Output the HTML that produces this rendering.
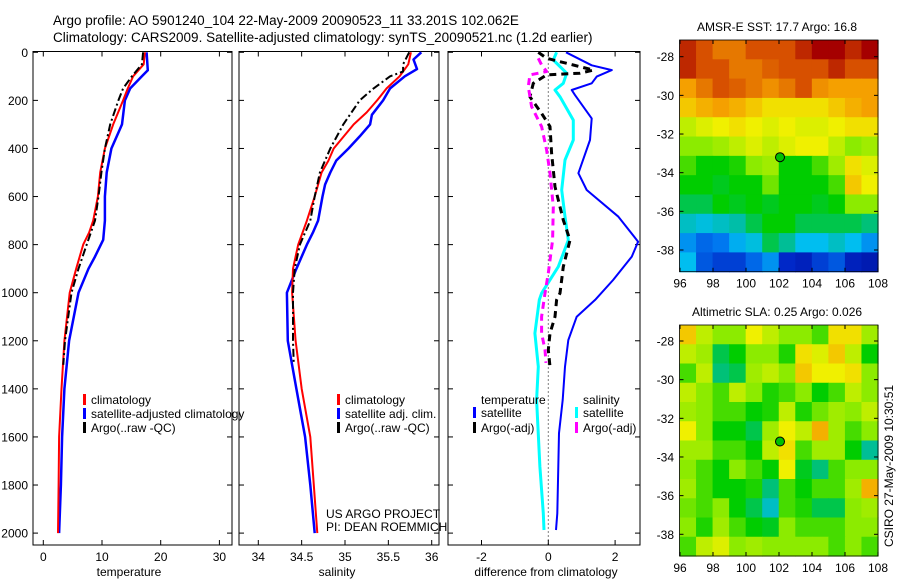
<!DOCTYPE html>
<html><head><meta charset="utf-8"><style>
body{margin:0;background:#fff;}
svg{display:block;font-family:"Liberation Sans",sans-serif;}
</style></head><body>
<svg id="fig" width="900" height="580" viewBox="0 0 900 580" xmlns="http://www.w3.org/2000/svg">
<rect width="900" height="580" fill="#fff"/>
<text x="53" y="25" font-size="13.5">Argo profile: AO 5901240_104 22-May-2009 20090523_11 33.201S 102.062E</text>
<text x="53" y="42" font-size="13.5">Climatology: CARS2009. Satellite-adjusted climatology: synTS_20090521.nc (1.2d earlier)</text>
<g id="layer"></g>
</svg>
<script>
// ---------- data ----------
const tDepth=[0,50,100,150,200,300,400,500,600,700,750,800,900,1000,1200,1400,1600,1800,2000];
const tClim=[17.3,17.1,15.3,14.4,13.6,11.9,10.5,9.7,9.3,8.5,7.8,6.8,5.6,4.5,3.6,3.1,2.7,2.6,2.5];
const tSatDepth=[0,75,100,150,200,300,400,500,600,700,780,850,900,1000,1200,1400,1600,1800,2000];
const tSat=[17.6,17.8,16.8,14.8,13.9,13.4,11.6,10.8,10.5,10.5,10.2,8.8,7.7,6.0,4.4,3.6,3.2,3.0,2.7];
const argoDepth=[0,50,100,150,200,300,400,500,600,700,800,900,1000,1200,1300];
const tArgo=[17.0,16.8,15.1,13.6,12.8,11.4,10.5,9.9,9.4,8.8,7.4,6.0,4.8,3.7,3.4];
const sDepth=[0,50,100,150,200,250,300,400,450,500,600,700,800,900,1000,1200,1400,1600,1800,2000];
const sClim=[35.76,35.73,35.63,35.48,35.37,35.25,35.10,34.87,34.81,34.73,34.65,34.56,34.46,34.40,34.39,34.43,34.50,34.60,34.64,34.68];
const sSatDepth=[0,30,70,100,150,200,260,300,350,400,450,500,550,600,700,750,800,900,1000,1200,1400,1600,1800,2000];
const sSat=[35.88,35.79,35.83,35.69,35.52,35.44,35.31,35.29,35.17,35.04,34.90,34.83,34.77,34.74,34.69,34.63,34.56,34.44,34.33,34.34,34.44,34.54,34.60,34.65];
const sArgoDepth=[0,50,80,100,150,200,300,400,500,600,700,800,900,1000,1200,1300];
const sArgo=[35.74,35.67,35.67,35.52,35.33,35.17,34.98,34.83,34.71,34.65,34.60,34.48,34.42,34.40,34.40,34.41];
const dTSatDepth=[0,54,74,101,129,157,178,275,365,503,573,684,788,850,947,1030,1100,1197,1308,1446,1584,1724,1918,1987];
const dTSat=[0.53,1.30,1.90,1.45,1.30,0.70,0.80,1.30,1.25,0.90,1.15,2.10,2.69,2.50,1.94,1.40,0.85,0.60,0.50,0.43,0.32,0.30,0.27,0.23];
const dSSatDepth=[0,32,87,129,157,185,282,365,448,573,684,781,892,1002,1030,1169,1308,1446,1724,1918,1987];
const dSSat=[0.25,0.15,0.55,0.45,0.20,0.35,0.75,0.75,0.50,0.40,0.50,0.60,0.30,-0.20,-0.27,-0.40,-0.30,-0.35,-0.25,-0.15,-0.13];
const dTArgoDepth=[0,25,53,74,87,94,129,185,254,309,420,559,698,781,892,1002,1030,1100,1169,1238,1308];
const dTArgo=[-0.30,-0.05,0.75,1.35,0.95,-0.05,-0.45,-0.55,-0.20,0.05,0.10,0.20,0.45,0.65,0.45,0.35,0.25,0.20,0.05,0.0,0.05];
const dSArgoDepth=[25,53,80,94,143,226,309,406,503,642,781,919,1002,1030,1100,1169,1238,1292];
const dSArgo=[-0.30,-0.20,-0.05,-0.55,-0.60,-0.50,-0.20,-0.05,0.05,0.15,0.13,0.0,-0.10,-0.13,-0.20,-0.20,-0.10,-0.07];
const depthTicks=[0,200,400,600,800,1000,1200,1400,1600,1800,2000];
const tTicks=[0,10,20,30];
const sTicks=[34,34.5,35,35.5,36];
const dTicks=[-2,0,2];
const lonTicks=[96,98,100,102,104,106,108];
const latTicks=[-28,-30,-32,-34,-36,-38];
const sstGrid=[
[0.95,0.9,0.85,0.85,0.9,0.9,0.9,0.95,1,1,0.95,1],
[0.95,0.9,0.9,0.85,0.85,0.88,0.9,0.9,0.9,0.95,0.9,0.9],
[0.8,0.85,0.9,0.88,0.85,0.82,0.85,0.9,0.82,0.8,0.8,0.8],
[0.75,0.78,0.8,0.78,0.75,0.72,0.72,0.72,0.72,0.75,0.78,0.8],
[0.65,0.68,0.7,0.72,0.7,0.68,0.7,0.68,0.68,0.7,0.72,0.72],
[0.6,0.6,0.62,0.65,0.68,0.65,0.68,0.7,0.7,0.65,0.6,0.62],
[0.55,0.5,0.5,0.52,0.6,0.62,0.5,0.5,0.55,0.62,0.72,0.68],
[0.5,0.5,0.48,0.5,0.5,0.58,0.5,0.5,0.5,0.55,0.75,0.7],
[0.45,0.45,0.5,0.48,0.5,0.48,0.5,0.5,0.48,0.5,0.6,0.6],
[0.35,0.32,0.35,0.38,0.45,0.5,0.5,0.45,0.45,0.45,0.45,0.42],
[0.25,0.2,0.22,0.28,0.32,0.45,0.4,0.3,0.3,0.35,0.3,0.25],
[0.3,0.18,0.15,0.15,0.2,0.25,0.12,0.1,0.15,0.18,0.1,0.08]];
const slaGrid=[
[0.75,0.65,0.6,0.6,0.7,0.65,0.6,0.6,0.55,0.72,0.72,0.62],
[0.65,0.62,0.45,0.5,0.6,0.6,0.52,0.72,0.68,0.75,0.65,0.5],
[0.55,0.65,0.42,0.45,0.62,0.65,0.6,0.75,0.7,0.7,0.72,0.6],
[0.65,0.6,0.55,0.65,0.6,0.52,0.55,0.6,0.5,0.55,0.65,0.6],
[0.62,0.6,0.55,0.55,0.5,0.52,0.65,0.52,0.58,0.62,0.6,0.65],
[0.7,0.6,0.5,0.5,0.45,0.62,0.7,0.65,0.78,0.62,0.55,0.6],
[0.62,0.62,0.55,0.55,0.5,0.65,0.72,0.55,0.62,0.62,0.5,0.4],
[0.6,0.55,0.5,0.6,0.55,0.5,0.7,0.48,0.42,0.55,0.6,0.6],
[0.62,0.55,0.5,0.5,0.52,0.42,0.55,0.5,0.55,0.55,0.62,0.78],
[0.58,0.55,0.6,0.5,0.45,0.35,0.55,0.52,0.45,0.45,0.6,0.62],
[0.6,0.52,0.62,0.55,0.5,0.48,0.6,0.55,0.55,0.55,0.6,0.6],
[0.55,0.65,0.68,0.6,0.62,0.6,0.6,0.6,0.6,0.55,0.6,0.55]];
const argoLon=102.06, argoLat=-33.2;

// ---------- helpers ----------
const NS="http://www.w3.org/2000/svg";
const L=document.getElementById('layer');
function mk(tag,at,parent){const e=document.createElementNS(NS,tag);for(const k in at)e.setAttribute(k,at[k]);(parent||L).appendChild(e);return e;}
const yD=d=>52.3+d*0.2404;
const panels=[
 {x0:33,x1:232,sx:v=>43.3+v*5.87,ticks:tTicks,label:'temperature',fmt:v=>v},
 {x0:239,x1:439,sx:v=>258.3+(v-34)*86.7,ticks:sTicks,label:'salinity',fmt:v=>v},
 {x0:448,x1:640,sx:v=>548.3+v*33.4,ticks:dTicks,label:'difference from climatology',fmt:v=>v}];
const yTop=51.5,yBot=545;
panels.forEach((p,i)=>{
 const g=mk('g',{});
 
 
 const b=mk('rect',{x:p.x0,y:yTop,width:p.x1-p.x0,height:yBot-yTop,fill:'none',stroke:'#000','stroke-width':1},g);
 
 
 depthTicks.forEach(d=>{
  const y=yD(d);
  const t=mk('line',{x1:p.x0,x2:p.x0+5,y1:y,y2:y,stroke:'#000'},g);
  
  
  mk('line',{x1:p.x1,x2:p.x1-5,y1:y,y2:y,stroke:'#000'},g);
  if(i===0){const tx=mk('text',{x:28,y:y+4.5,'font-size':12,'text-anchor':'end'},g);tx.textContent=d;
   
   }
 });
 p.ticks.forEach(v=>{
  const x=p.sx(v);
  const t=mk('line',{x1:x,x2:x,y1:yBot,y2:yBot-5,stroke:'#000'},g);
  
  
  mk('line',{x1:x,x2:x,y1:yTop,y2:yTop+5,stroke:'#000'},g);
  const tx=mk('text',{x:x,y:561,'font-size':12,'text-anchor':'middle'},g);tx.textContent=p.fmt(v);
  
  
 });
 const lab=mk('text',{x:(i===0?129:i===1?337:546),y:576,'font-size':12,'text-anchor':'middle'},g);
 lab.textContent=p.label;
 
 
});
function series(pi,depths,vals,color,w,dash,name){
 const p=panels[pi];
 const pts=depths.map((d,k)=>p.sx(vals[k]).toFixed(1)+','+yD(d).toFixed(1)).join(' ');
 const e=mk('polyline',{points:pts,fill:'none',stroke:color,'stroke-width':w,'stroke-dasharray':dash||'none','stroke-linejoin':'round'});
 
 
}
// zero line
const z=mk('line',{x1:panels[2].sx(0),x2:panels[2].sx(0),y1:yTop,y2:yBot,stroke:'#000','stroke-width':1,'stroke-dasharray':'1,3'});


series(0,tSatDepth,tSat,'#0000ff',2.5,null,'temp-satellite-line');
series(0,tDepth,tClim,'#ff0000',2,null,'temp-climatology-line');
series(0,argoDepth,tArgo,'#000',2,'8,3,2,3','temp-argo-line');
series(1,sSatDepth,sSat,'#0000ff',2.5,null,'sal-satellite-line');
series(1,sDepth,sClim,'#ff0000',2,null,'sal-climatology-line');
series(1,sArgoDepth,sArgo,'#000',2,'8,3,2,3','sal-argo-line');
series(2,dTSatDepth,dTSat,'#0000ff',2,null,'diff-temp-satellite-line');
series(2,dSSatDepth,dSSat,'#00ffff',3,null,'diff-sal-satellite-line');
series(2,dTArgoDepth,dTArgo,'#000',3,'7,5','diff-temp-argo-line');
series(2,dSArgoDepth,dSArgo,'#ff00ff',3,'7,5','diff-sal-argo-line');
// legends
function legend(x,y,color,text,name){
 if(color){const m=mk('rect',{x:x,y:y-10,width:3,height:11,fill:color});
  
  }
 const t=mk('text',{x:x+8,y:y,'font-size':12});t.textContent=text;
 
 
}
legend(83,404,'#ff0000','climatology','legend-climatology');
legend(83,418,'#0000ff','satellite-adjusted climatology','legend-satellite-adjusted');
legend(83,432,'#000','Argo(..raw -QC)','legend-argo');
legend(337,404,'#ff0000','climatology','legend-sal-climatology');
legend(337,418,'#0000ff','satellite adj. clim.','legend-sal-satellite');
legend(337,432,'#000','Argo(..raw -QC)','legend-sal-argo');
legend(473,404,null,'temperature','legend-temperature-heading');
legend(473,417,'#0000ff','satellite','legend-temp-satellite');
legend(473,432,'#000','Argo(-adj)','legend-temp-argo');
legend(575,404,null,'salinity','legend-salinity-heading');
legend(575,417,'#00ffff','satellite','legend-sal-satellite-diff');
legend(575,432,'#ff00ff','Argo(-adj)','legend-sal-argo-diff');
const c1=mk('text',{x:326,y:518,'font-size':12});c1.textContent='US ARGO PROJECT';


const c2=mk('text',{x:326,y:531,'font-size':12});c2.textContent='PI: DEAN ROEMMICH';



// ---------- maps ----------
const stops=[[0,[0,0,130]],[0.12,[0,40,200]],[0.22,[0,120,240]],[0.3,[0,190,240]],[0.4,[0,190,150]],[0.5,[0,205,0]],[0.6,[140,235,0]],[0.7,[240,240,0]],[0.8,[245,160,0]],[0.9,[215,80,0]],[1,[165,0,0]]];
function cmap(v){for(let i=1;i<stops.length;i++){if(v<=stops[i][0]){const a=stops[i-1],b=stops[i],f=(v-a[0])/(b[0]-a[0]);return 'rgb('+a[1].map((c,k)=>Math.round(c+(b[1][k]-c)*f)).join(',')+')';}}return 'rgb(165,0,0)';}
function drawMap(grid,top,bot,lat28,lat38,title,name){
 const g=mk('g',{});
 
 
 const x0=679.5,x1=878;
 const lx=lon=>680+(lon-96)*16.5;
 const ly=lat=>lat28+(lat+28)*(lat28-lat38)/10;
 const rows=grid.length,cols=grid[0].length,cw=(x1-x0)/cols,ch=(bot-top)/rows;
 grid.forEach((row,r)=>row.forEach((v,c)=>{
  const e=mk('rect',{x:(x0+c*cw).toFixed(2),y:(top+r*ch).toFixed(2),width:(cw+0.6).toFixed(2),height:(ch+0.6).toFixed(2),fill:cmap(v)},g);
  
  
 }));
 mk('rect',{x:x0,y:top,width:x1-x0,height:bot-top,fill:'none',stroke:'#000','stroke-width':0.8},g);
 lonTicks.forEach(lon=>{const x=lx(lon);
  mk('line',{x1:x,x2:x,y1:bot,y2:bot-4,stroke:'#000'},g);
  mk('line',{x1:x,x2:x,y1:top,y2:top+4,stroke:'#000'},g);
  const t=mk('text',{x:x,y:bot+16,'font-size':12,'text-anchor':'middle'},g);t.textContent=lon;
  
  });
 latTicks.forEach(lat=>{const y=ly(lat);
  mk('line',{x1:x0,x2:x0+4,y1:y,y2:y,stroke:'#000'},g);
  mk('line',{x1:x1,x2:x1-4,y1:y,y2:y,stroke:'#000'},g);
  const t=mk('text',{x:674,y:y+4.5,'font-size':12,'text-anchor':'end'},g);t.textContent=lat;
  
  });
 const tt=mk('text',{x:777,y:top-9,'font-size':12,'text-anchor':'middle'},g);tt.textContent=title;
 
 
 const m=mk('circle',{cx:lx(argoLon),cy:ly(argoLat),r:4.5,fill:'#00c000',stroke:'#000','stroke-width':1},g);
 
 
}
drawMap(sstGrid,40,271.7,56.7,250,'AMSR-E SST: 17.7 Argo: 16.8','sst-map');
drawMap(slaGrid,325,556,341,534.3,'Altimetric SLA: 0.25 Argo: 0.026','sla-map');
const st=mk('text',{x:0,y:0,'font-size':12,'text-anchor':'middle',transform:'translate(893,466) rotate(-90)'});
st.textContent='CSIRO 27-May-2009 10:30:51';


</script>
</body></html>
